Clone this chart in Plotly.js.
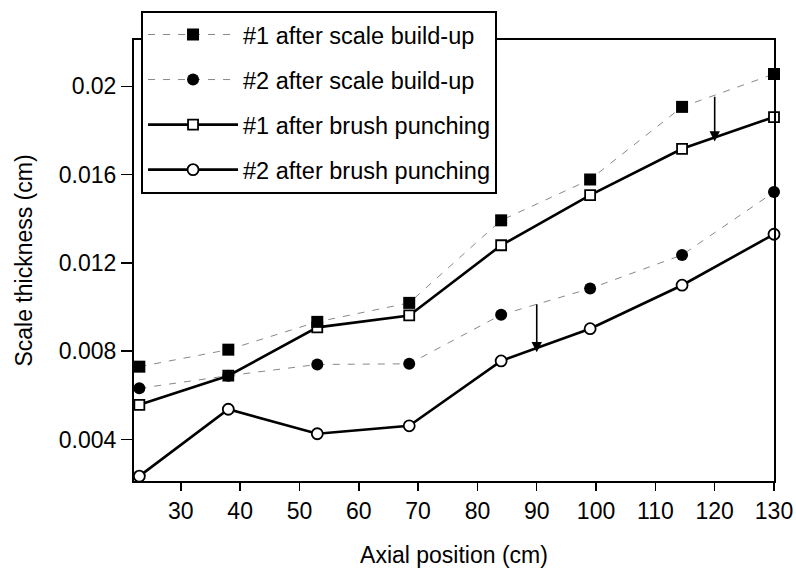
<!DOCTYPE html>
<html>
<head>
<meta charset="utf-8">
<script src="https://cdn.plot.ly/plotly-3.0.1.min.js"></script>
<style>html,body{margin:0;padding:0;background:#fff;}#chart{width:796px;height:572px;}</style>
</head>
<body>
<div id="chart"></div>
<script>
// Axial positions (cm)
const axialPosition = [23, 38, 53, 68.5, 84, 99, 114.5, 130];
// Scale thickness (cm)
const s1ScaleBuildUp = [0.0073, 0.00807, 0.00933, 0.01019, 0.01393, 0.01578, 0.01907, 0.02056];
const s2ScaleBuildUp = [0.00632, 0.00689, 0.0074, 0.00743, 0.00965, 0.01084, 0.01236, 0.01521];
const s1BrushPunching = [0.00557, 0.00689, 0.00908, 0.00962, 0.0128, 0.01507, 0.01717, 0.01861];
const s2BrushPunching = [0.00234, 0.00537, 0.00426, 0.00462, 0.00756, 0.00902, 0.01099, 0.0133];
const seriesNames = ["#1 after scale build-up", "#2 after scale build-up", "#1 after brush punching", "#2 after brush punching"];
// Tick labels
const xTickVals = [30, 40, 50, 60, 70, 80, 90, 100, 110, 120, 130];
const yTickVals = [0.004, 0.008, 0.012, 0.016, 0.02];
const yTickText = ["0.004", "0.008", "0.012", "0.016", "0.02"];
// Arrows: [x, from y, to y]
const arrowX = [120, 90];
const arrowFrom = [0.0196, 0.0102];
const arrowTo = [0.0175, 0.00795];

const FONT = '"Liberation Sans", Arial, Helvetica, sans-serif';

const traces = [
  {
    x: axialPosition, y: s1BrushPunching, name: seriesNames[2], legendrank: 3, legendgroup: 'c',
    mode: 'lines+markers', cliponaxis: false,
    line: {color: '#000', width: 2.6},
    marker: {symbol: 'square', size: 10, color: '#fff', line: {color: '#000', width: 1.8}}
  },
  {
    x: axialPosition, y: s2BrushPunching, name: seriesNames[3], legendrank: 4, legendgroup: 'd',
    mode: 'lines+markers', cliponaxis: false,
    line: {color: '#000', width: 2.6},
    marker: {symbol: 'circle', size: 11, color: '#fff', line: {color: '#000', width: 1.8}}
  },
  {
    x: axialPosition, y: s1ScaleBuildUp, name: seriesNames[0], legendrank: 1, legendgroup: 'a',
    mode: 'lines+markers', cliponaxis: false,
    line: {color: '#888', width: 1, dash: '7px,8px'},
    marker: {symbol: 'square', size: 12, color: '#000'}
  },
  {
    x: axialPosition, y: s2ScaleBuildUp, name: seriesNames[1], legendrank: 2, legendgroup: 'b',
    mode: 'lines+markers', cliponaxis: false,
    line: {color: '#888', width: 1, dash: '7px,8px'},
    marker: {symbol: 'circle', size: 12, color: '#000'}
  }
];

const annotations = arrowX.map((ax, i) => ({
  x: ax, y: arrowTo[i], xref: 'x', yref: 'y',
  ax: ax, ay: arrowFrom[i], axref: 'x', ayref: 'y',
  text: '', showarrow: true, arrowhead: 2, arrowsize: 1.3, arrowwidth: 1.6,
  arrowcolor: '#000', standoff: 0, startstandoff: 0
}));

const layout = {
  width: 796, height: 572,
  margin: {l: 134, r: 22, t: 39, b: 91},
  paper_bgcolor: '#fff', plot_bgcolor: '#fff',
  font: {family: FONT, size: 22, color: '#000'},
  showlegend: true,
  legend: {
    x: 0.011, y: 1.064, xanchor: 'left', yanchor: 'top',
    bgcolor: '#fff', bordercolor: '#000', borderwidth: 2,
    font: {family: FONT, size: 23.5, color: '#000'},
    itemwidth: 90, tracegroupgap: 11.5, traceorder: 'grouped'
  },
  xaxis: {
    range: [22.1, 130], tickvals: xTickVals,
    showgrid: false, zeroline: false,
    showline: true, linecolor: '#000', linewidth: 2, mirror: true,
    ticks: 'outside', ticklen: 8, tickwidth: 1.5, tickcolor: '#000',
    tickfont: {family: FONT, size: 23, color: '#000'},
    title: {text: 'Axial position (cm)', font: {family: FONT, size: 23, color: '#000'}, standoff: 24}
  },
  yaxis: {
    range: [0.00212, 0.0221], tickvals: yTickVals, ticktext: yTickText,
    showgrid: false, zeroline: false,
    showline: true, linecolor: '#000', linewidth: 2, mirror: true,
    ticks: 'outside', ticklen: 11, tickwidth: 1.5, tickcolor: '#000',
    tickfont: {family: FONT, size: 23, color: '#000'},
    title: {text: 'Scale thickness (cm)', font: {family: FONT, size: 23, color: '#000'}, standoff: 20}
  },
  annotations: annotations
};

Plotly.newPlot('chart', traces, layout, {displayModeBar: false, staticPlot: true});
</script>
</body>
</html>
